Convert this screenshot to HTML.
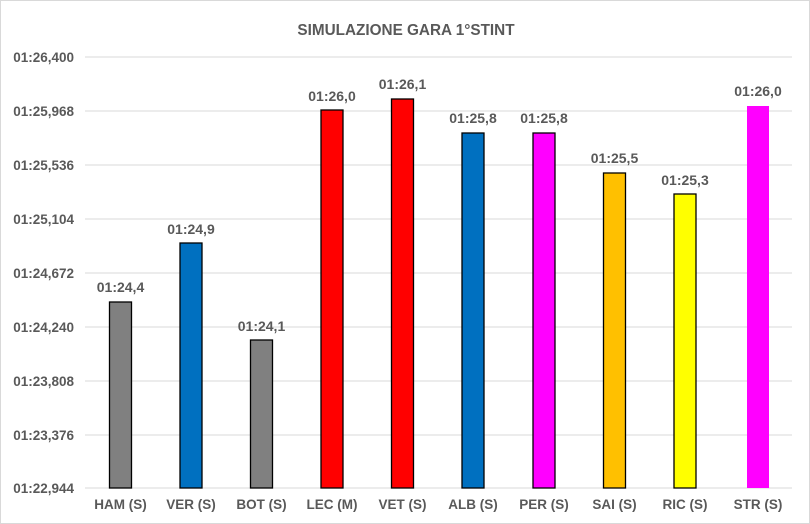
<!DOCTYPE html>
<html><head><meta charset="utf-8"><style>
html,body{margin:0;padding:0;background:#fff}
svg{display:block}
text{font-family:"Liberation Sans",Arial,sans-serif;font-weight:bold;fill:#595959}
</style></head><body>
<svg width="810" height="524" xmlns="http://www.w3.org/2000/svg">
<rect x="0.5" y="0.5" width="809" height="523" fill="#fff" stroke="#d9d9d9"/>
<text x="406" y="35" text-anchor="middle" font-size="15.3">SIMULAZIONE GARA 1°STINT</text>
<g stroke="#d9d9d9" stroke-width="1">
<line x1="85" x2="792" y1="57" y2="57"/>
<line x1="85" x2="792" y1="111" y2="111"/>
<line x1="85" x2="792" y1="165" y2="165"/>
<line x1="85" x2="792" y1="219" y2="219"/>
<line x1="85" x2="792" y1="273" y2="273"/>
<line x1="85" x2="792" y1="327" y2="327"/>
<line x1="85" x2="792" y1="381" y2="381"/>
<line x1="85" x2="792" y1="435" y2="435"/>
<line x1="85" x2="792" y1="488" y2="488"/>
</g>
<g font-size="13.5" text-anchor="end">
<text x="74" y="62">01:26,400</text>
<text x="74" y="116">01:25,968</text>
<text x="74" y="170">01:25,536</text>
<text x="74" y="224">01:25,104</text>
<text x="74" y="278">01:24,672</text>
<text x="74" y="332">01:24,240</text>
<text x="74" y="386">01:23,808</text>
<text x="74" y="440">01:23,376</text>
<text x="74" y="493">01:22,944</text>
</g>
<g stroke="#000" stroke-width="1.3">
<rect x="109.5" y="302" width="22" height="186" fill="#808080"/>
<rect x="180" y="243" width="22" height="245" fill="#0070c0"/>
<rect x="250.5" y="340" width="22" height="148" fill="#808080"/>
<rect x="321" y="110" width="22" height="378" fill="#ff0000"/>
<rect x="391.5" y="99" width="22" height="389" fill="#ff0000"/>
<rect x="462" y="133" width="22" height="355" fill="#0070c0"/>
<rect x="533" y="133" width="22" height="355" fill="#ff00ff"/>
<rect x="603.5" y="173" width="22" height="315" fill="#ffc000"/>
<rect x="674" y="194" width="22" height="294" fill="#ffff00"/>
</g>
<rect x="747" y="106" width="22" height="382" fill="#ff00ff"/>
<g font-size="14" text-anchor="middle" style="fill:#404040">
<text x="120.5" y="292">01:24,4</text>
<text x="191" y="234">01:24,9</text>
<text x="261.5" y="331">01:24,1</text>
<text x="332" y="101">01:26,0</text>
<text x="402.5" y="89">01:26,1</text>
<text x="473" y="123">01:25,8</text>
<text x="544" y="123">01:25,8</text>
<text x="614.5" y="163">01:25,5</text>
<text x="685" y="185">01:25,3</text>
<text x="758" y="96">01:26,0</text>
</g>
<g font-size="13.5" text-anchor="middle">
<text x="120.5" y="509">HAM (S)</text>
<text x="191" y="509">VER (S)</text>
<text x="261.5" y="509">BOT (S)</text>
<text x="332" y="509">LEC (M)</text>
<text x="402.5" y="509">VET (S)</text>
<text x="473" y="509">ALB (S)</text>
<text x="544" y="509">PER (S)</text>
<text x="614.5" y="509">SAI (S)</text>
<text x="685" y="509">RIC (S)</text>
<text x="758" y="509">STR (S)</text>
</g>
</svg>
</body></html>
